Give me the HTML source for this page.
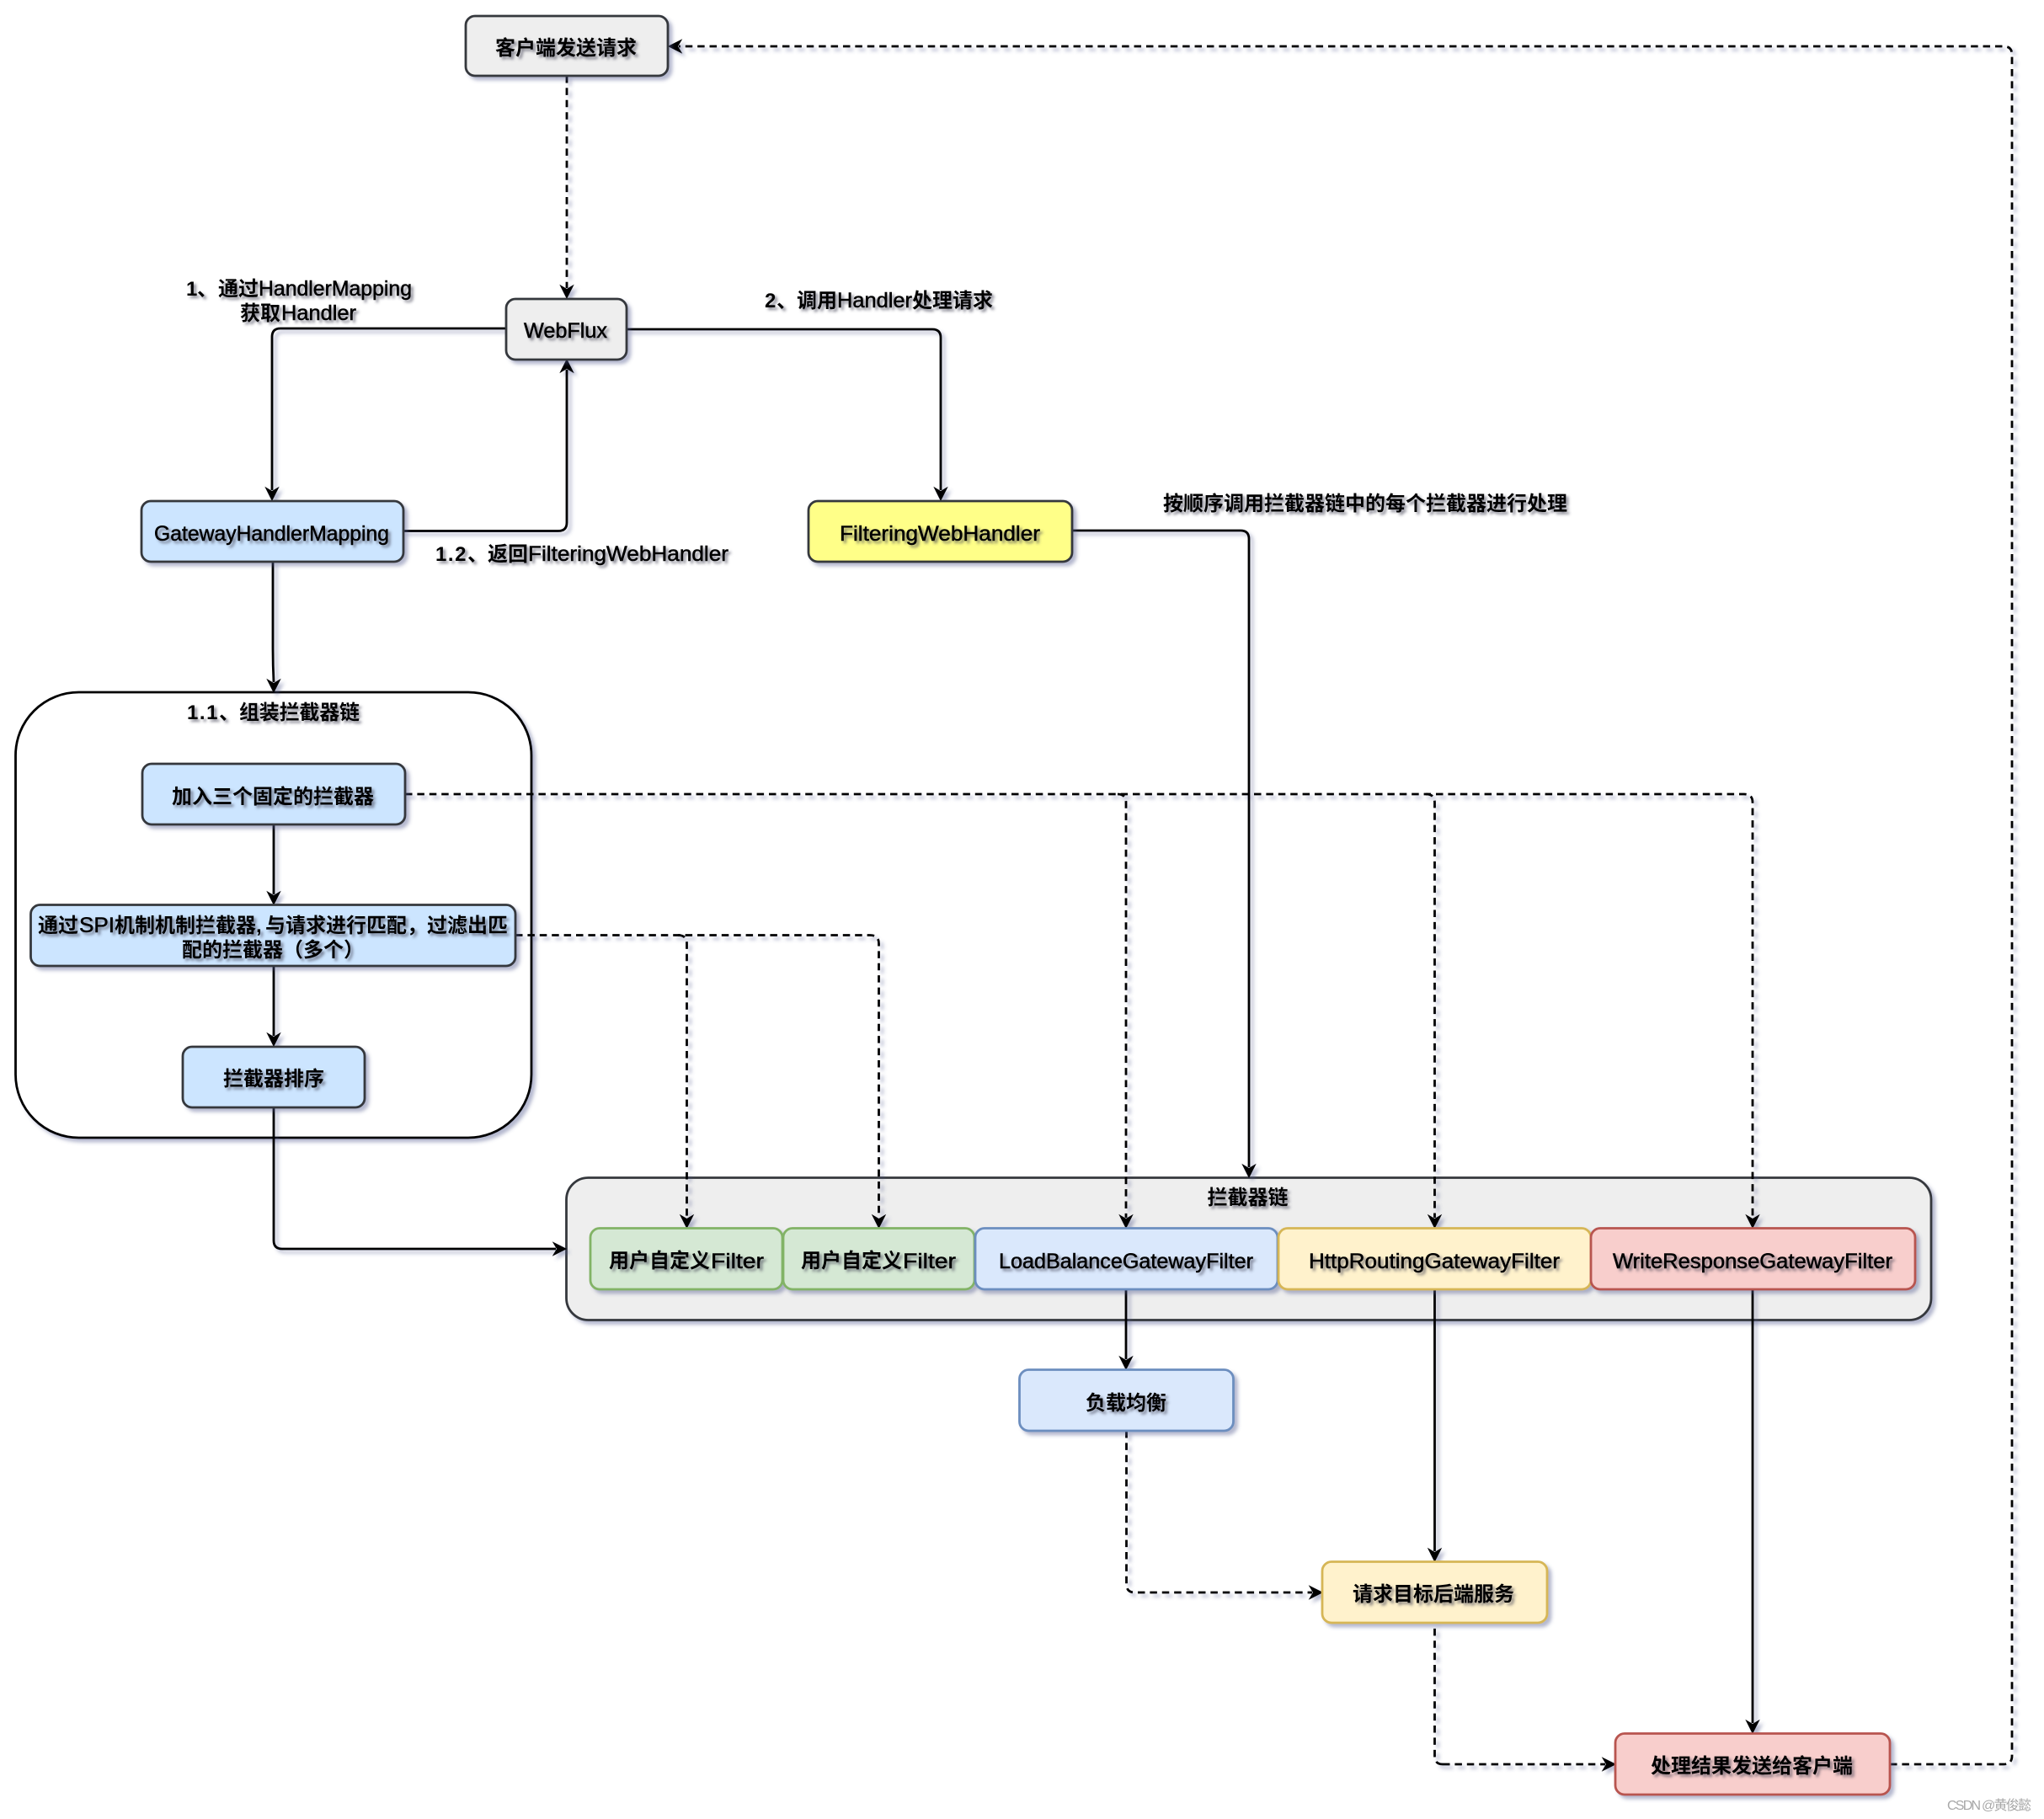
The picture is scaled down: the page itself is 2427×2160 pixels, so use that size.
<!DOCTYPE html>
<html><head><meta charset="utf-8"><style>
html,body{margin:0;padding:0;background:#fff}
svg{display:block}
.c{font-family:"Liberation Sans","Noto Sans CJK SC",sans-serif;font-weight:700;font-size:24px;fill:#000}
.l{font-family:"Liberation Sans","Noto Sans CJK SC",sans-serif;font-weight:400;font-size:25px;fill:#000;stroke:#000;stroke-width:.55px}
.k{fill:none;stroke:#000;stroke-width:2.8}
.d{fill:none;stroke:#000;stroke-width:2.8;stroke-dasharray:8.5 5.9}
.h{fill:#000;stroke:#000;stroke-width:1}
</style></head><body>
<svg width="2427" height="2160" viewBox="0 0 2427 2160" xmlns="http://www.w3.org/2000/svg">
<defs>
<filter id="s" filterUnits="userSpaceOnUse" x="0" y="0" width="2427" height="2160"><feDropShadow dx="4" dy="4" stdDeviation="2" flood-color="#50558c" flood-opacity=".42"/></filter>
<filter id="t" filterUnits="userSpaceOnUse" x="0" y="0" width="2427" height="2160"><feDropShadow dx="3" dy="3" stdDeviation="1.6" flood-color="#3c3c50" flood-opacity=".6"/></filter>
<path id="a" d="M0 0L-7.5 -15L0 -10.5L7.5 -15Z"/>
</defs>
<rect width="2427" height="2160" fill="#fff"/>

<g filter="url(#s)">
<rect x="18.5" y="822" width="612.5" height="529" rx="75" fill="#fff" stroke="#000" stroke-width="2.8"/>
<rect x="672.5" y="1398.5" width="1620.5" height="169" rx="26" fill="#eeeeee" stroke="#36393d" stroke-width="2.8"/>
</g>

<g filter="url(#s)">
<path class="d" d="M673 90V342"/>
<path class="k" d="M601 390H333Q323 390 323 400V582"/>
<path class="k" d="M744 391H1107Q1117 391 1117 401V582"/>
<path class="k" d="M479 630.5H663Q673 630.5 673 620.5V439"/>
<path class="k" d="M324 667V770Q324 790 325 810"/>
<path class="k" d="M325 979V1062"/>
<path class="k" d="M325 1147V1230"/>
<path class="k" d="M325 1315V1473Q325 1483 335 1483H660"/>
<path class="k" d="M1273 630H1473Q1483 630 1483 640V1386"/>
<path class="k" d="M1337 1531V1614"/>
<path class="k" d="M1703.5 1531V1842"/>
<path class="k" d="M2081 1531V2046"/>
<path class="d" d="M481 943H2071Q2081 943 2081 953V1446"/>
<path class="d" d="M1327 943Q1337 943 1337 953V1446"/>
<path class="d" d="M1693 943Q1703.5 943 1703.5 953V1446"/>
<path class="d" d="M612 1110.5H1033Q1043.5 1110.5 1043.5 1120.5V1446"/>
<path class="d" d="M805 1110.5Q815.5 1110.5 815.5 1120.5V1446"/>
<path class="d" d="M1337.5 1699V1881Q1337.5 1891 1347.5 1891H1558"/>
<path class="d" d="M1713 2095Q1703.5 2095 1703.5 2085V1927M1713 2095H1906"/>
<path class="d" d="M2244 2095H2379Q2389 2095 2389 2085V65Q2389 55 2379 55H806"/>
<use class="h" href="#a" transform="translate(673,354)"/>
<use class="h" href="#a" transform="translate(323,594)"/>
<use class="h" href="#a" transform="translate(1117,594)"/>
<use class="h" href="#a" transform="translate(673,427) rotate(180)"/>
<use class="h" href="#a" transform="translate(325,822)"/>
<use class="h" href="#a" transform="translate(325,1074)"/>
<use class="h" href="#a" transform="translate(325,1242)"/>
<use class="h" href="#a" transform="translate(672,1483) rotate(-90)"/>
<use class="h" href="#a" transform="translate(1483,1398)"/>
<use class="h" href="#a" transform="translate(815.5,1458)"/>
<use class="h" href="#a" transform="translate(1043.5,1458)"/>
<use class="h" href="#a" transform="translate(1337,1458)"/>
<use class="h" href="#a" transform="translate(1703.5,1458)"/>
<use class="h" href="#a" transform="translate(2081,1458)"/>
<use class="h" href="#a" transform="translate(1337,1626)"/>
<use class="h" href="#a" transform="translate(1703.5,1854)"/>
<use class="h" href="#a" transform="translate(2081,2058)"/>
<use class="h" href="#a" transform="translate(1570,1891) rotate(-90)"/>
<use class="h" href="#a" transform="translate(1918,2095) rotate(-90)"/>
<use class="h" href="#a" transform="translate(794,55) rotate(90)"/>
</g>

<g filter="url(#s)" stroke-width="2.8">
<rect x="553" y="19" width="240" height="71" rx="11" fill="#eeeeee" stroke="#36393d"/>
<rect x="601" y="355" width="143" height="72" rx="11" fill="#eeeeee" stroke="#36393d"/>
<rect x="168" y="595" width="311" height="72" rx="11" fill="#cce5ff" stroke="#36393d"/>
<rect x="960" y="595" width="313" height="72" rx="11" fill="#ffff88" stroke="#36393d"/>
<rect x="169" y="907" width="312" height="72" rx="11" fill="#cce5ff" stroke="#36393d"/>
<rect x="36.5" y="1074.5" width="575.5" height="72.5" rx="11" fill="#cce5ff" stroke="#36393d"/>
<rect x="217" y="1243" width="216" height="72" rx="11" fill="#cce5ff" stroke="#36393d"/>
<rect x="701" y="1458.5" width="228" height="72.5" rx="11" fill="#d5e8d4" stroke="#82b366"/>
<rect x="930" y="1458.5" width="227" height="72.5" rx="11" fill="#d5e8d4" stroke="#82b366"/>
<rect x="1158" y="1458.5" width="359" height="72.5" rx="11" fill="#dae8fc" stroke="#6c8ebf"/>
<rect x="1518" y="1458.5" width="371" height="72.5" rx="11" fill="#fff2cc" stroke="#d6b656"/>
<rect x="1889" y="1458.5" width="385" height="72.5" rx="11" fill="#f8cecc" stroke="#b85450"/>
<rect x="1210.5" y="1626.5" width="254" height="72.5" rx="11" fill="#dae8fc" stroke="#6c8ebf"/>
<rect x="1570" y="1854.5" width="267" height="72.5" rx="11" fill="#fff2cc" stroke="#d6b656"/>
<rect x="1918" y="2058.5" width="326" height="72.5" rx="11" fill="#f8cecc" stroke="#b85450"/>
</g>

<g filter="url(#t)">
<text class="c" x="588" y="65" textLength="168">客户端发送请求</text>
<text class="l" x="622" y="401" textLength="99" lengthAdjust="spacingAndGlyphs">WebFlux</text>
<text class="l" x="183" y="642" textLength="279" lengthAdjust="spacingAndGlyphs">GatewayHandlerMapping</text>
<text class="l" x="997" y="642" textLength="238" lengthAdjust="spacingAndGlyphs">FilteringWebHandler</text>

<text class="c" x="221" y="351" textLength="37">1、</text>
<text class="c" x="259" y="351" textLength="48">通过</text>
<text class="l" x="307" y="351" textLength="182" lengthAdjust="spacingAndGlyphs">HandlerMapping</text>
<text class="c" x="285" y="380" textLength="48">获取</text>
<text class="l" x="334" y="380" textLength="89" lengthAdjust="spacingAndGlyphs">Handler</text>

<text class="c" x="908" y="365" textLength="38">2、</text>
<text class="c" x="946" y="365" textLength="48">调用</text>
<text class="l" x="994" y="365" textLength="89" lengthAdjust="spacingAndGlyphs">Handler</text>
<text class="c" x="1083" y="365" textLength="96">处理请求</text>

<text class="c" x="517" y="666" textLength="62">1.2、</text>
<text class="c" x="579" y="666" textLength="48">返回</text>
<text class="l" x="627" y="666" textLength="238" lengthAdjust="spacingAndGlyphs">FilteringWebHandler</text>

<text class="c" x="1381" y="606" textLength="480">按顺序调用拦截器链中的每个拦截器进行处理</text>

<text class="c" x="222" y="854" textLength="62">1.1、</text>
<text class="c" x="284" y="854" textLength="143">组装拦截器链</text>

<text class="c" x="204" y="954" textLength="240">加入三个固定的拦截器</text>

<text class="c" x="45" y="1107" textLength="48">通过</text>
<text class="l" x="94" y="1107" textLength="42" lengthAdjust="spacingAndGlyphs">SPI</text>
<text class="c" x="136" y="1107" textLength="168">机制机制拦截器</text>
<text class="c" x="304" y="1107" textLength="11">,</text>
<text class="c" x="315" y="1107" textLength="168">与请求进行匹配</text>
<text class="c" x="483" y="1107" textLength="24">，</text>
<text class="c" x="507" y="1107" textLength="96">过滤出匹</text>
<text class="c" x="216" y="1136" textLength="216">配的拦截器（多个）</text>

<text class="c" x="265" y="1289" textLength="120">拦截器排序</text>

<text class="c" x="1433.5" y="1430" textLength="96">拦截器链</text>

<text class="c" x="723" y="1505" textLength="120">用户自定义</text>
<text class="l" x="844" y="1506" textLength="63" lengthAdjust="spacingAndGlyphs">Filter</text>
<text class="c" x="951" y="1505" textLength="120">用户自定义</text>
<text class="l" x="1072" y="1506" textLength="63" lengthAdjust="spacingAndGlyphs">Filter</text>
<text class="l" x="1186" y="1506" textLength="302" lengthAdjust="spacingAndGlyphs">LoadBalanceGatewayFilter</text>
<text class="l" x="1554" y="1506" textLength="298" lengthAdjust="spacingAndGlyphs">HttpRoutingGatewayFilter</text>
<text class="l" x="1915" y="1506" textLength="332" lengthAdjust="spacingAndGlyphs">WriteResponseGatewayFilter</text>

<text class="c" x="1289" y="1674" textLength="96">负载均衡</text>
<text class="c" x="1606" y="1901" textLength="192">请求目标后端服务</text>
<text class="c" x="1960" y="2105" textLength="240">处理结果发送给客户端</text>
</g>

<text x="2312" y="2149" font-family="Liberation Sans,Noto Sans CJK SC,sans-serif" font-size="16" fill="#a8a8a8" textLength="100">CSDN @黄俊懿</text>
</svg>
</body></html>
